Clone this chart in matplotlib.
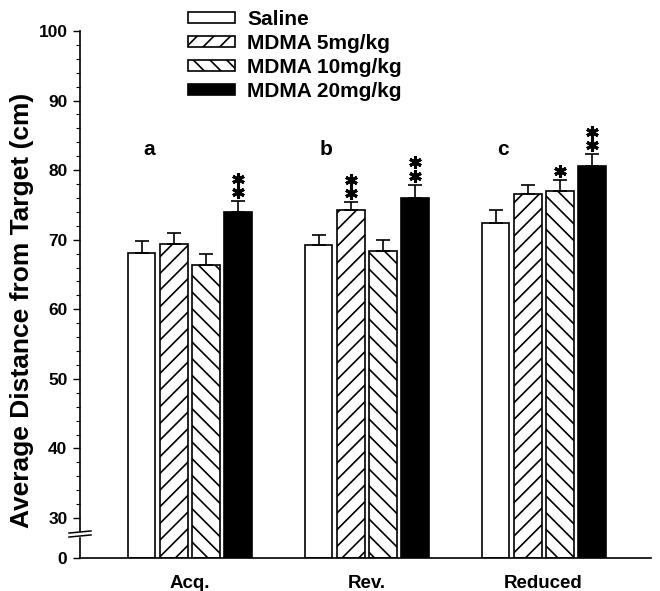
import numpy as np
import matplotlib
matplotlib.use("Agg")
import matplotlib.pyplot as plt

plt.rcParams['font.family'] = ['Liberation Sans', 'DejaVu Sans']
plt.rcParams['font.weight'] = 'bold'
plt.rcParams['hatch.linewidth'] = 1.2

phases = ['Acq.', 'Rev.', 'Reduced']
panel_letters = ['a', 'b', 'c']
groups = ['Saline', 'MDMA 5mg/kg', 'MDMA 10mg/kg', 'MDMA 20mg/kg']
saline = [68.1, 69.3, 72.4]
mdma5 = [69.4, 74.2, 76.5]
mdma10 = [66.4, 68.4, 77.0]
mdma20 = [74.0, 76.0, 80.6]
saline_err = [1.7, 1.4, 1.9]
mdma5_err = [1.5, 1.2, 1.4]
mdma10_err = [1.6, 1.5, 1.6]
mdma20_err = [1.5, 1.9, 1.7]
# number of asterisks per bar (group order, phase order)
stars = [[0, 0, 0], [0, 2, 0], [0, 0, 1], [2, 2, 2]]

means = [saline, mdma5, mdma10, mdma20]
errs = [saline_err, mdma5_err, mdma10_err, mdma20_err]
hatches = ['', '//', '\\\\', '']
fills = ['white', 'white', 'white', 'black']

# broken axis: 0-30 squeezed into a short band
squeeze = 0.1917
def fwd(y):
    y = np.asarray(y, dtype=float)
    return np.where(y >= 30, y, 30 - (30 - y) * squeeze)
def inv(y):
    y = np.asarray(y, dtype=float)
    return np.where(y >= 30, y, 30 - (30 - y) / squeeze)

fig = plt.figure(figsize=(6.6, 5.91), dpi=100)
ax = fig.add_axes([80 / 660, 1 - 558 / 591, 571 / 660, 527 / 591])
ax.set_yscale('function', functions=(fwd, inv))

x = np.arange(len(phases))
width = 0.158
step = 0.181
for i in range(4):
    pos = x + (i - 1.5) * step
    ax.bar(pos, means[i], width, color=fills[i], edgecolor='black',
           hatch=hatches[i], linewidth=1.2, label=groups[i], zorder=2)
    ax.errorbar(pos, means[i], yerr=[np.zeros(3), errs[i]], fmt='none',
                ecolor='black', elinewidth=1.2, capsize=5, capthick=1.2, zorder=3)
    for j in range(3):
        top = means[i][j] + errs[i][j]
        for k in range(stars[i][j]):
            ax.plot(pos[j], top + 1.3 + 1.9 * k, marker=(6, 2, 0), ms=9,
                    mew=2.2, color='black', zorder=4)

for j in range(3):
    ax.text(x[j] - 0.23, 83.0, panel_letters[j], fontsize=15, fontweight='bold',
            ha='center', va='center')

ax.set_xlim(-0.619, 2.607)
ax.set_ylim(0, 100)
ax.set_yticks([0, 30, 40, 50, 60, 70, 80, 90, 100])
ax.set_yticks(np.arange(32, 100, 2), minor=True)
ax.tick_params(axis='y', which='major', length=5, width=1, labelsize=12.5, pad=4)
ax.tick_params(axis='y', which='minor', length=3, width=0.8)
ax.set_xticks(x)
ax.set_xticklabels(phases, fontsize=13.5, fontweight='bold')
ax.tick_params(axis='x', length=0, pad=12)
for lab in ax.get_yticklabels():
    lab.set_fontweight('bold')

ax.spines['top'].set_visible(False)
ax.spines['right'].set_visible(False)
ax.spines['left'].set_linewidth(1.2)
ax.spines['bottom'].set_linewidth(1.2)

ax.set_ylabel('Average Distance from Target (cm)', fontsize=19,
              fontweight='bold')
ax.yaxis.set_label_coords(-0.08, 0.469)

# axis break marks
yb1 = (558 - 532) / 527
yb2 = (558 - 536) / 527
xa = -11 / 571
xb = 11 / 571
ax.fill_between([xa, xb], [yb2, yb2], [yb1, yb1], color='white',
                transform=ax.transAxes, clip_on=False, zorder=5)
for yb in (yb1, yb2):
    ax.plot([xa, xb], [yb - 0.002, yb + 0.002], color='black', lw=1.1,
            transform=ax.transAxes, clip_on=False, zorder=6)

fig.legend(loc='upper left', bbox_to_anchor=(188 / 660, 1 - 10 / 591),
           frameon=False, handlelength=2.25, handleheight=0.42,
           handletextpad=0.6, labelspacing=0.24, borderpad=0, borderaxespad=0,
           prop={'weight': 'bold', 'size': 15})

fig.savefig('out.png', dpi=100)
